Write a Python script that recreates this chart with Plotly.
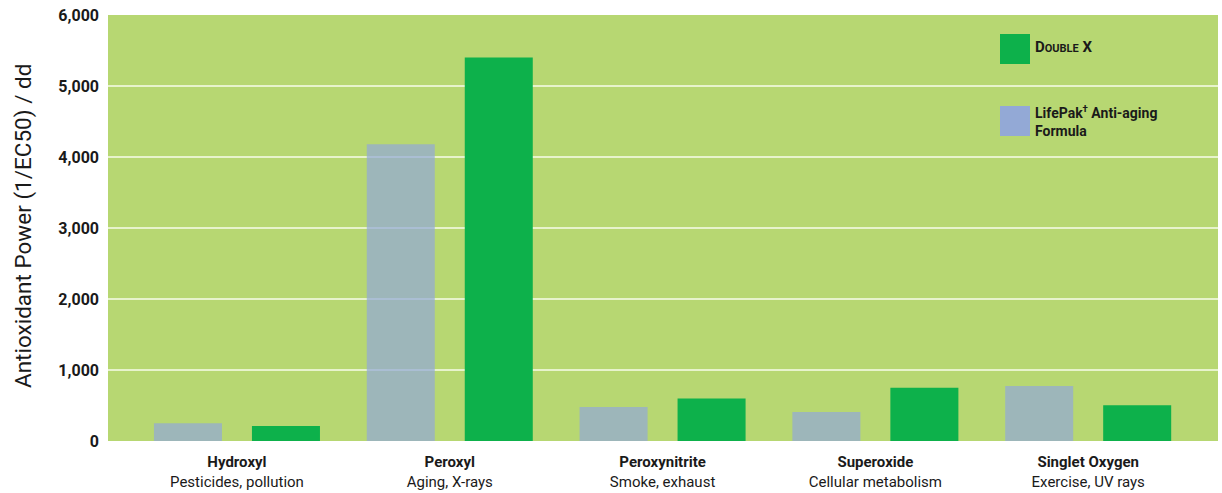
import plotly.graph_objects as go

categories = ["Hydroxyl", "Peroxyl", "Peroxynitrite", "Superoxide", "Singlet Oxygen"]
sources = ["Pesticides, pollution", "Aging, X-rays", "Smoke, exhaust", "Cellular metabolism", "Exercise, UV rays"]
lifepak = [250, 4180, 480, 410, 775]
double_x = [210, 5400, 600, 750, 505]
y_ticks = [0, 1000, 2000, 3000, 4000, 5000, 6000]
y_tick_labels = ["0", "1,000", "2,000", "3,000", "4,000", "5,000", "6,000"]

FONT = "Roboto, Liberation Sans Narrow, DejaVu Sans Condensed, sans-serif"
BG = "#b7d772"
GREEN = "#0db14b"
BLUE = "rgba(147,169,214,0.72)"
BLUE_LEG = "#93a9d6"

x_idx = list(range(len(categories)))
ticktext = [f"<b>{c}</b><br>{s}" for c, s in zip(categories, sources)]

fig = go.Figure()
fig.add_trace(go.Bar(x=x_idx, y=lifepak, name="LifePak† Anti-aging Formula",
                     marker=dict(color=BLUE, line=dict(width=0))))
fig.add_trace(go.Bar(x=x_idx, y=double_x, name="Double X",
                     marker=dict(color=GREEN, line=dict(width=0))))

fig.update_layout(
    width=1222, height=493,
    margin=dict(l=108, r=4, t=15, b=52, autoexpand=False),
    paper_bgcolor="white", plot_bgcolor=BG,
    barmode="group", bargap=0.079, bargroupgap=0.306,
    showlegend=False,
    font=dict(family=FONT, color="#1a1a1a", size=15),
)
fig.update_xaxes(
    range=[-0.606, 4.61], tickmode="array", tickvals=x_idx, ticktext=ticktext,
    showgrid=False, zeroline=False, showline=False, ticks="", ticklabelstandoff=10,
    tickfont=dict(family=FONT, size=15, color="#1a1a1a"), automargin=False,
)
fig.update_yaxes(
    range=[0, 6000], tickmode="array", tickvals=y_ticks, ticktext=y_tick_labels,
    showgrid=True, gridcolor="rgba(240,248,220,0.85)", gridwidth=2,
    zeroline=False, showline=False, ticks="", ticklabelstandoff=8,
    ticklabeloverflow="allow",
    tickfont=dict(family=FONT, size=16, color="#1a1a1a", weight="bold"), automargin=False,
)

def px(xp):
    return (xp - 108) / 1110

def py(yp):
    return (441 - yp) / 426

# y-axis title
fig.add_annotation(xref="paper", yref="paper", x=px(23), y=py(226),
                   text="Antioxidant Power (1/EC50) / dd", textangle=-90, showarrow=False,
                   font=dict(family=FONT, size=22.5, color="#1a1a1a"), xanchor="center", yanchor="middle")

# custom legend
fig.add_shape(type="rect", xref="paper", yref="paper", x0=px(1000), x1=px(1030), y0=py(64), y1=py(34),
              fillcolor=GREEN, line=dict(width=0))
fig.add_shape(type="rect", xref="paper", yref="paper", x0=px(1000), x1=px(1030), y0=py(136), y1=py(106),
              fillcolor=BLUE_LEG, line=dict(width=0))
fig.add_annotation(xref="paper", yref="paper", x=px(1033), y=py(47), xanchor="left", yanchor="middle",
                   text="<b>D<span style='font-size:11px'>OUBLE</span> X</b>", showarrow=False,
                   font=dict(family=FONT, size=15, color="#1a1a1a"))
fig.add_annotation(xref="paper", yref="paper", x=px(1033), y=py(121), xanchor="left", yanchor="middle",
                   text="<b>LifePak<sup>†</sup> Anti-aging<br>Formula</b>", showarrow=False, align="left",
                   font=dict(family=FONT, size=14, color="#1a1a1a"))

fig.write_html("out.html", config={"displayModeBar": False},
               post_script="document.body.style.margin='0';document.body.style.overflow='hidden';")
